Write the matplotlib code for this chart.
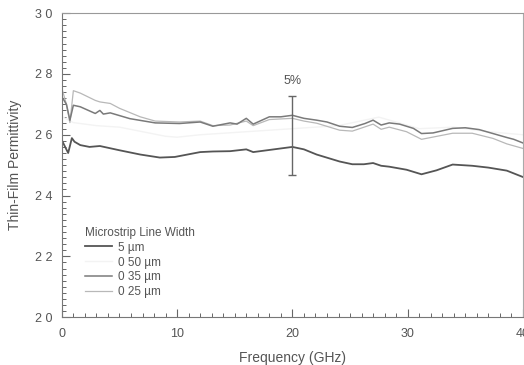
import matplotlib
matplotlib.use("Agg")
import matplotlib.pyplot as plt
from matplotlib.ticker import MultipleLocator, FixedLocator, FixedFormatter

plt.rcParams['font.family'] = ['Liberation Sans', 'DejaVu Sans']

# 5 um line (bottom, dark)
f_5 = [0, 0.3, 0.55, 0.87, 1.1, 1.6, 2.4, 3.3, 5, 6.8, 8.5, 9.8, 12, 13.1, 14.6, 16.0, 16.6,
       18.0, 20.0, 21.0, 22.1, 24.1, 25.2, 26.2, 27.0, 27.7, 28.4, 29.9, 31.2, 32.5, 33.9,
       35.6, 37.0, 38.6, 40]
e_5 = [2.582, 2.559, 2.540, 2.589, 2.577, 2.566, 2.560, 2.563, 2.549, 2.535, 2.525, 2.527,
       2.543, 2.545, 2.546, 2.552, 2.543, 2.550, 2.560, 2.552, 2.535, 2.512, 2.503, 2.503,
       2.507, 2.498, 2.495, 2.485, 2.470, 2.483, 2.502, 2.498, 2.492, 2.482, 2.461]

# 0.35 um line (middle, gray)
f_35 = [0, 0.4, 0.7, 1.0, 1.6, 2.9, 3.3, 3.6, 4.2, 5.9, 8.1, 10.2, 12.0, 13.1, 14.6, 15.2,
        16.0, 16.6, 18.0, 19.0, 20.0, 21.0, 22.1, 23.0, 24.1, 25.2, 26.3, 27.0, 27.7, 28.4,
        29.3, 30.5, 31.2, 32.2, 33.9, 35.0, 36.2, 37.4, 38.6, 39.2, 40]
e_35 = [2.725, 2.700, 2.648, 2.697, 2.692, 2.670, 2.680, 2.668, 2.672, 2.653, 2.639, 2.637,
        2.642, 2.628, 2.639, 2.635, 2.654, 2.635, 2.659, 2.659, 2.664, 2.654, 2.648, 2.642,
        2.628, 2.624, 2.637, 2.648, 2.632, 2.639, 2.635, 2.621, 2.604, 2.606, 2.621, 2.623,
        2.617, 2.604, 2.591, 2.585, 2.573]

# 0.25 um line (upper, light)
f_25 = [0, 0.4, 0.7, 1.0, 1.6, 2.9, 3.3, 4.2, 5.0, 6.8, 8.1, 10.2, 12.0, 13.1, 14.6, 16.0,
        16.6, 18.0, 20.0, 21.0, 22.1, 24.1, 25.2, 27.0, 27.7, 28.4, 29.9, 31.2, 33.9, 35.6,
        37.4, 38.6, 40]
e_25 = [2.753, 2.700, 2.640, 2.745, 2.737, 2.713, 2.708, 2.703, 2.687, 2.659, 2.645, 2.642,
        2.645, 2.630, 2.632, 2.645, 2.630, 2.650, 2.654, 2.645, 2.638, 2.615, 2.612, 2.635,
        2.618, 2.625, 2.610, 2.585, 2.605, 2.605, 2.588, 2.570, 2.555]

# 0.50 um line (very faint)
f_50 = [0, 1.0, 3.0, 5.0, 7.0, 9.0, 10.0, 12.0, 16.0, 20.0, 24.0, 27.5, 31.0, 34.0, 37.0, 40]
e_50 = [2.66, 2.64, 2.63, 2.625, 2.61, 2.595, 2.592, 2.60, 2.61, 2.62, 2.63, 2.658, 2.62, 2.625, 2.61, 2.60]

err_x = 20
err_center = 2.598
err_half = 0.130

fig = plt.figure(figsize=(5.24, 3.65), dpi=100)
ax = fig.add_axes([0.118, 0.131, 0.880, 0.833])

l50, = ax.plot(f_50, e_50, color='#f3f3f3', lw=1.0, label='0 50 \u00b5m')
l25, = ax.plot(f_25, e_25, color='#b8b8b8', lw=0.9, label='0 25 \u00b5m')
l35, = ax.plot(f_35, e_35, color='#7a7a7a', lw=1.1, label='0 35 \u00b5m')
l5, = ax.plot(f_5, e_5, color='#555555', lw=1.3, label='5 \u00b5m')

ax.errorbar([err_x], [err_center], yerr=[err_half], fmt='none', ecolor='#666666',
            elinewidth=1.0, capsize=3, capthick=1.0)
ax.text(err_x, err_center + err_half + 0.03, '5%', ha='center', va='bottom',
        fontsize=9, color='#555555')

ax.set_xlim(0, 40)
ax.set_ylim(2.0, 3.0)

ax.xaxis.set_major_locator(FixedLocator([0, 10, 20, 30, 40]))
ax.xaxis.set_major_formatter(FixedFormatter(['0', '10', '20', '30', '40']))
ax.xaxis.set_minor_locator(MultipleLocator(1))
ax.yaxis.set_major_locator(FixedLocator([2.0, 2.2, 2.4, 2.6, 2.8, 3.0]))
ax.yaxis.set_major_formatter(FixedFormatter(['2 0', '2 2', '2 4', '2 6', '2 8', '3 0']))
ax.yaxis.set_minor_locator(MultipleLocator(0.02))

ax.tick_params(which='both', direction='in', colors='#666666', labelcolor='#555555',
               labelsize=9, top=False, right=False)
ax.tick_params(which='major', length=6, width=0.8)
ax.tick_params(which='minor', length=3, width=0.7)
ax.tick_params(axis='x', pad=8)
ax.tick_params(axis='y', pad=7)

for s in ax.spines.values():
    s.set_color('#777777')
    s.set_linewidth(0.8)
ax.spines['top'].set_color('#999999')
ax.spines['right'].set_color('#aaaaaa')

ax.set_xlabel('Frequency (GHz)', fontsize=10, color='#555555', labelpad=8)
ax.set_ylabel('Thin-Film Permittivity', fontsize=10, color='#555555', labelpad=9)

leg = ax.legend(handles=[l5, l50, l35, l25], title='Microstrip Line Width',
                loc='upper left', bbox_to_anchor=(0.033, 0.325), frameon=False,
                fontsize=8.5, title_fontsize=8.5, handlelength=2.3, handletextpad=0.5,
                labelspacing=0.25, borderpad=0.2, alignment='left')
for t in leg.get_texts():
    t.set_color('#555555')
leg.get_title().set_color('#555555')

fig.savefig('out.png', dpi=100)
